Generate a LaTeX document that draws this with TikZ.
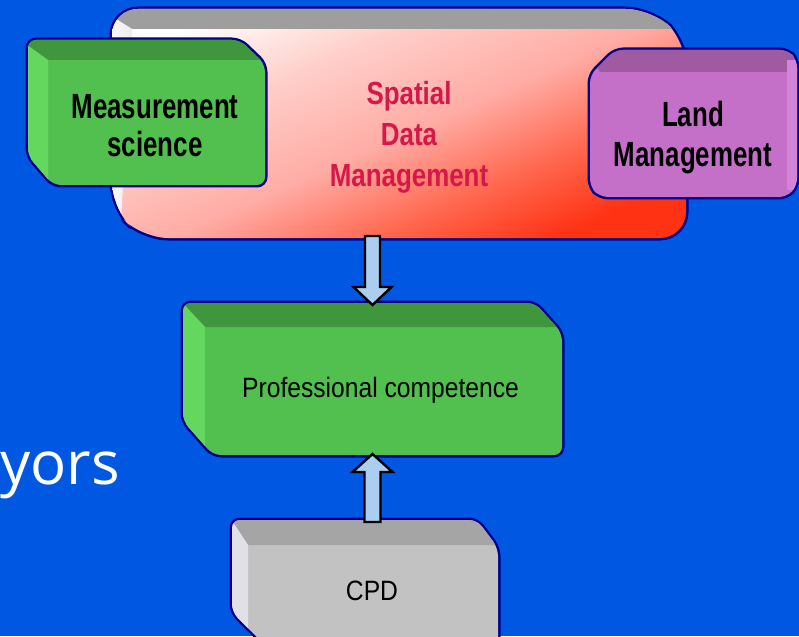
\documentclass[tikz,border=0pt]{standalone}
\usepackage{fontspec}
\usetikzlibrary{calc}
\newfontfamily\nbA[FakeStretch=0.74]{Liberation Sans}
\newfontfamily\nbB[FakeStretch=0.81]{Liberation Sans}
\newfontfamily\nrC[FakeStretch=0.88]{Liberation Sans}
\newfontfamily\osans{Open Sans}
\definecolor{bgblue}{RGB}{0,88,226}
\definecolor{navyedge}{RGB}{0,0,140}
\definecolor{grnF}{RGB}{82,192,78}
\definecolor{grnT}{RGB}{64,150,60}
\definecolor{grnL}{RGB}{100,216,94}
\definecolor{purF}{RGB}{196,112,200}
\definecolor{purT}{RGB}{160,90,162}
\definecolor{purL}{RGB}{212,132,216}
\definecolor{gryF}{RGB}{194,194,194}
\definecolor{gryT}{RGB}{165,165,165}
\definecolor{gryL}{RGB}{224,224,230}
\definecolor{spTop}{RGB}{158,158,158}
\definecolor{spA}{RGB}{255,50,20}
\definecolor{spB}{RGB}{255,105,80}
\definecolor{spC}{RGB}{255,172,165}
\definecolor{spD}{RGB}{255,205,200}
\definecolor{spE}{RGB}{255,252,250}
\definecolor{crimson}{RGB}{214,24,72}
\definecolor{arrowblue}{RGB}{170,205,240}
\pgfdeclareverticalshading{spshade}{100bp}{color(0bp)=(spA); color(25bp)=(spA); color(36bp)=(spB); color(48bp)=(spC); color(62bp)=(spD); color(75bp)=(spE); color(100bp)=(spE)}
\newcommand\pSp{(112,9) -- (652,9) -- (686,42) -- (686,238) -- (142,238) -- (112,208) -- cycle}
\newcommand\pMe{(28,40) -- (240,40) -- (265,64) -- (265,185) -- (53,185) -- (28,156) -- cycle}
\newcommand\pLa{(615,50) -- (788,50) -- (797,60) -- (797,186) -- (787,197) -- (600,197) -- (590,187) -- (590,75) -- cycle}
\newcommand\pPr{(183,303) -- (535,303) -- (562,333) -- (562,455) -- (213,455) -- (183,421) -- cycle}
\newcommand\pCp{(232,520) -- (477,520) -- (498,548) -- (498,650) -- (270,650) -- (232,612) -- cycle}
\begin{document}
\begin{tikzpicture}[x=1pt,y=-1pt,
  edgeline/.style={draw=navyedge, line width=5pt, line join=round},
  fatarrow/.style={fill=arrowblue, draw=black, line width=2.4pt, line join=miter},
  boxarea/.style={rectangle, inner sep=0pt, outer sep=0pt, draw=none},
  boxtext/.style={inner sep=0pt, outer sep=0pt, align=center, text=black}]
\useasboundingbox (0,0) rectangle (799,636);
\clip (0,0) rectangle (799,636);
\fill[bgblue] (0,0) rectangle (799,636);

% named box areas
\node[boxarea, minimum width=574pt, minimum height=229pt] (spatialbox) at (399,123.5) {};
\node[boxarea, minimum width=237pt, minimum height=145pt] (measbox) at (146.5,112.5) {};
\node[boxarea, minimum width=207pt, minimum height=147pt] (landbox) at (693.5,123.5) {};
\node[boxarea, minimum width=379pt, minimum height=152pt] (profbox) at (372.5,379) {};
\node[boxarea, minimum width=266pt, minimum height=120pt] (cpdbox) at (365,580) {};

% Spatial data management shape
\draw[edgeline, rounded corners=26pt] \pSp;
\begin{scope}
  \clip[rounded corners=26pt] \pSp;
  \shade[shading=spshade, shading angle=24] (105,5) rectangle (690,240);
  \fill[spTop] (100,9) -- (652,9) -- (672,29) -- (132,29) -- cycle;
  \shade[left color=white, right color=white!85!gray] (100,9) -- (132,29) -- (120,238) -- (100,238) -- cycle;
\end{scope}

% Measurement science
\draw[edgeline, rounded corners=8pt] \pMe;
\begin{scope}
  \clip[rounded corners=8pt] \pMe;
  \fill[grnF] (20,30) rectangle (270,190);
  \fill[grnT] (20,40) -- (240,40) -- (265,64) -- (265,60) -- (48,60) -- cycle;
  \fill[grnT] (20,30) rectangle (270,40);
  \fill[grnL] (20,40) -- (48,60) -- (48,190) -- (20,190) -- cycle;
\end{scope}

% Land management
\draw[edgeline, rounded corners=8pt] \pLa;
\begin{scope}
  \clip[rounded corners=8pt] \pLa;
  \fill[purF] (585,45) rectangle (800,200);
  \fill[purT] (585,45) -- (800,45) -- (800,72) -- (600,72) -- cycle;
  \fill[purL] (787,60) rectangle (800,190);
\end{scope}

% Professional competence
\draw[edgeline, rounded corners=8pt] \pPr;
\begin{scope}
  \clip[rounded corners=8pt] \pPr;
  \fill[grnF] (175,295) rectangle (570,460);
  \fill[grnT] (175,295) -- (537,295) -- (570,330) -- (570,327) -- (205,327) -- cycle;
  \fill[grnL] (175,295) -- (205,327) -- (205,460) -- (175,460) -- cycle;
\end{scope}

% CPD
\draw[edgeline, rounded corners=8pt] \pCp;
\begin{scope}
  \clip[rounded corners=8pt] \pCp;
  \fill[gryF] (225,510) rectangle (505,660);
  \fill[gryT] (225,510) -- (479,510) -- (505,546) -- (505,545) -- (248,545) -- cycle;
  \fill[gryL] (225,510) -- (248,545) -- (248,660) -- (225,660) -- cycle;
\end{scope}

% texts
\node[boxtext, font=\nbA\bfseries\fontsize{35}{38}\selectfont] (meas) at (155,125.2) {Measurement\\science};
\node[boxtext, font=\nbA\bfseries\fontsize{35}{40}\selectfont] (land) at (693,137.9) {Land\\Management};
\node[boxtext, text=crimson, font=\nbB\bfseries\fontsize{32}{41}\selectfont] (spatial) at (409,137.7) {Spatial\\Data\\Management};
\node[boxtext, anchor=base, font=\nrC\fontsize{28}{30}\selectfont] (prof) at (380.5,397) {Professional competence};
\node[boxtext, anchor=base, font=\nrC\fontsize{28}{30}\selectfont] (cpd) at (372,600) {CPD};
\node[inner sep=0pt, anchor=base west, text=white, font=\osans\fontsize{60}{62}\selectfont] (yors) at (0,484) {yors};

% arrows
\coordinate (dT) at ($(spatialbox.south -| profbox.north)+(0,-2)$);
\coordinate (dP) at ($(profbox.north)+(0,2)$);
\draw[fatarrow] ($(dT)+(-7.5,0)$) -- ($(dP)+(-7.5,-18)$) -- ($(dP)+(-19,-18)$) -- (dP)
  -- ($(dP)+(19,-18)$) -- ($(dP)+(7.5,-18)$) -- ($(dT)+(7.5,0)$) -- cycle;
\coordinate (uB) at ($(cpdbox.north -| profbox.south)+(0,2)$);
\coordinate (uQ) at ($(profbox.south)+(0,-1)$);
\draw[fatarrow] ($(uB)+(-8,0)$) -- ($(uQ)+(-8,18)$) -- ($(uQ)+(-20,18)$) -- (uQ)
  -- ($(uQ)+(20,18)$) -- ($(uQ)+(8,18)$) -- ($(uB)+(8,0)$) -- cycle;
\end{tikzpicture}
\end{document}
